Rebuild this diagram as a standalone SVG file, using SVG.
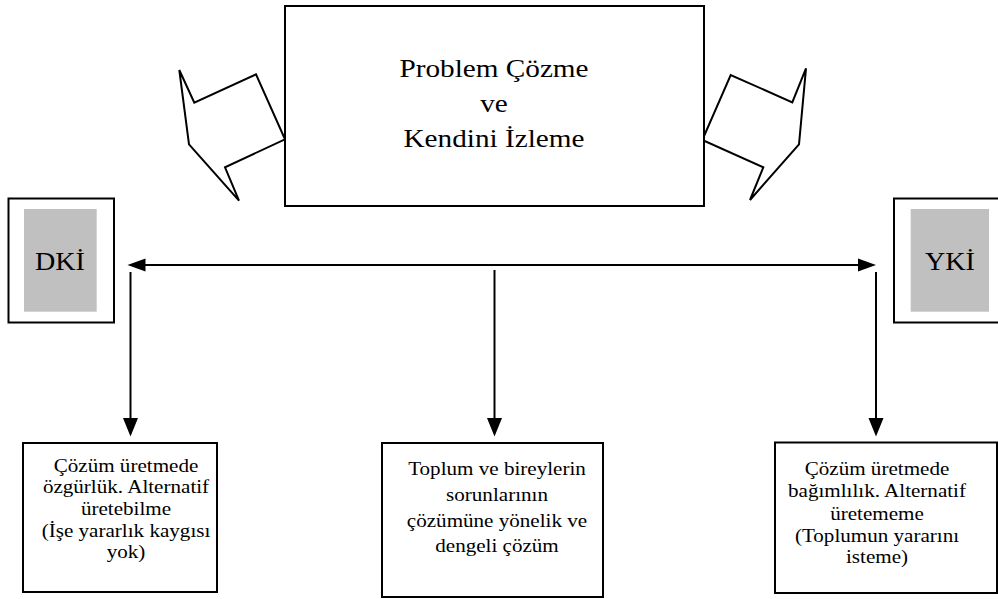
<svg xmlns="http://www.w3.org/2000/svg" width="998" height="599" viewBox="0 0 998 599">
  <style>
    .box { fill: #fff; stroke: #000; stroke-width: 2; }
    .shade { fill: #c0c0c0; stroke: none; }
    .outline { fill: #fff; stroke: #000; stroke-width: 2; stroke-linejoin: miter; }
    .line { fill: none; stroke: #000; stroke-width: 2; }
    .tip { fill: #000; stroke: none; }
    .txt { font-family: 'Liberation Serif', 'Times New Roman', 'DejaVu Serif', serif; fill: #000; text-anchor: middle; }
    .big { font-size: 26px; }
    .tag { font-size: 26px; }
    .small { font-size: 18.5px; }
  </style>
  <rect width="998" height="599" fill="#fff"/>

  <!-- curved block arrows flanking the central box -->
  <g id="arrow-left">
    <polygon class="outline" points="179.3,70 194.3,102.7 256,74.3 285,139.3 225,167.3 239,200.7 189,144.3"/>
  </g>
  <g id="arrow-right">
    <polygon class="outline" points="806,68.3 792.3,102.3 730.7,75 702.3,140 763.3,167.3 750,200 799,144.3"/>
  </g>

  <g id="main" class="txt" font-family="Liberation Serif, serif">
    <rect class="box" x="285" y="6" width="419" height="200"/>
    <text class="big" transform="translate(494,0) scale(1.125,1)" x="0" y="77">Problem Çözme</text>
    <text class="big" transform="translate(494,0) scale(1.125,1)" x="0" y="112">ve</text>
    <text class="big" transform="translate(494,0) scale(1.125,1)" x="0" y="147">Kendini İzleme</text>
  </g>

  <g id="dki" class="txt" font-family="Liberation Serif, serif">
    <rect class="box" x="8.5" y="198.5" width="105.5" height="124"/>
    <rect class="shade" x="24" y="209" width="72.7" height="102.7"/>
    <text class="tag" transform="translate(60,0) scale(1.08,1)" x="0" y="270">DKİ</text>
  </g>

  <g id="yki" class="txt" font-family="Liberation Serif, serif">
    <rect class="box" x="894" y="198.5" width="110" height="124"/>
    <rect class="shade" x="910.7" y="209" width="78.3" height="102.7"/>
    <text class="tag" transform="translate(950,0) scale(1.08,1)" x="0" y="270">YKİ</text>
  </g>

  <g id="connectors">
    <line class="line" x1="140" y1="265" x2="864" y2="265"/>
    <polygon class="tip" points="127.5,265 145.5,258.5 145.5,271.5"/>
    <polygon class="tip" points="876,265 858,258.5 858,271.5"/>
    <line class="line" x1="130.5" y1="272" x2="130.5" y2="422"/>
    <polygon class="tip" points="130.5,436.5 123,418 138,418"/>
    <line class="line" x1="494.5" y1="270" x2="494.5" y2="422"/>
    <polygon class="tip" points="494.5,436.5 487,418 502,418"/>
    <line class="line" x1="876" y1="272" x2="876" y2="422"/>
    <polygon class="tip" points="876,436.5 868.5,418 883.5,418"/>
  </g>

  <g id="dki-result" class="txt" font-family="Liberation Serif, serif">
    <rect class="box" x="23" y="443" width="194" height="149"/>
    <text class="small" transform="translate(126,0) scale(1.14,1)" x="0" y="472">Çözüm üretmede</text>
    <text class="small" transform="translate(126,0) scale(1.14,1)" x="0" y="493.5">özgürlük. Alternatif</text>
    <text class="small" transform="translate(126,0) scale(1.14,1)" x="0" y="515.5">üretebilme</text>
    <text class="small" transform="translate(126,0) scale(1.14,1)" x="0" y="537">(İşe yararlık kaygısı</text>
    <text class="small" transform="translate(126,0) scale(1.14,1)" x="0" y="558.5">yok)</text>
  </g>

  <g id="balanced-result" class="txt" font-family="Liberation Serif, serif">
    <rect class="box" x="382" y="443" width="221" height="154"/>
    <text class="small" transform="translate(497,0) scale(1.14,1)" x="0" y="475">Toplum ve bireylerin</text>
    <text class="small" transform="translate(497,0) scale(1.14,1)" x="0" y="501">sorunlarının</text>
    <text class="small" transform="translate(497,0) scale(1.14,1)" x="0" y="527">çözümüne yönelik ve</text>
    <text class="small" transform="translate(497,0) scale(1.14,1)" x="0" y="552">dengeli çözüm</text>
  </g>

  <g id="yki-result" class="txt" font-family="Liberation Serif, serif">
    <rect class="box" x="775" y="442.5" width="222" height="150.5"/>
    <text class="small" transform="translate(877,0) scale(1.14,1)" x="0" y="475">Çözüm üretmede</text>
    <text class="small" transform="translate(877,0) scale(1.14,1)" x="0" y="497">bağımlılık. Alternatif</text>
    <text class="small" transform="translate(877,0) scale(1.14,1)" x="0" y="520">üretememe</text>
    <text class="small" transform="translate(877,0) scale(1.14,1)" x="0" y="542">(Toplumun yararını</text>
    <text class="small" transform="translate(877,0) scale(1.14,1)" x="0" y="563">isteme)</text>
  </g>
</svg>
